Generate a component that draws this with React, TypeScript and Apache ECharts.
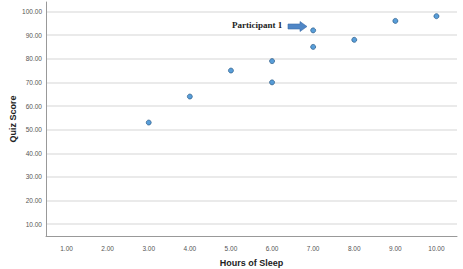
import React, { useEffect, useRef } from "react";
import * as echarts from "echarts";

const hoursOfSleep = [3, 4, 5, 6, 6, 7, 7, 8, 9, 10];
const quizScore = [53, 64, 75, 79, 70, 92, 85, 88, 96, 98];
const xTicks = [1, 2, 3, 4, 5, 6, 7, 8, 9, 10];
const yTicks = [10, 20, 30, 40, 50, 60, 70, 80, 90, 100];
const annotationText = "Participant 1";

export default function App() {
  const ref = useRef<HTMLDivElement>(null);
  useEffect(() => {
    document.body.style.margin = "0";
    const chart = echarts.init(ref.current!, null, { renderer: "svg" });
    chart.setOption({
      animation: false,
      backgroundColor: "#ffffff",
      grid: { left: 46, right: 6, top: 2, bottom: 33, outerBoundsMode: "none", containLabel: false },
      xAxis: {
        type: "value",
        min: 0.5,
        max: 10.5,
        name: "Hours of Sleep",
        nameLocation: "middle",
        nameGap: 22,
        nameMoveOverlap: false,
        nameTextStyle: { fontFamily: "Liberation Sans", fontWeight: "bold", fontSize: 9, color: "#222" },
        axisLine: { show: true, lineStyle: { color: "#999", width: 1 } },
        axisTick: { show: false, customValues: xTicks },
        axisLabel: {
          customValues: xTicks,
          formatter: (v: number) => v.toFixed(2),
          fontFamily: "Liberation Sans",
          fontSize: 6.5,
          color: "#555",
          margin: 9,
        },
        splitLine: { show: false },
      },
      yAxis: {
        type: "value",
        min: 5,
        max: 104,
        name: "Quiz Score",
        nameLocation: "middle",
        nameGap: 29,
        nameMoveOverlap: false,
        nameTextStyle: { fontFamily: "Liberation Sans", fontWeight: "bold", fontSize: 9, color: "#222" },
        axisLine: { show: true, lineStyle: { color: "#999", width: 1 } },
        axisTick: { show: false, customValues: yTicks },
        axisLabel: {
          customValues: yTicks,
          formatter: (v: number) => v.toFixed(2),
          fontFamily: "Liberation Sans",
          fontSize: 6.5,
          color: "#555",
          margin: 4,
        },
        splitLine: { show: true, lineStyle: { color: "#e3e3e3", width: 1.5 } },
      },
      series: [
        {
          type: "scatter",
          data: hoursOfSleep.map((h, i) => [h, quizScore[i]]),
          symbol: "circle",
          symbolSize: 5,
          itemStyle: { color: "#2f86d0", borderColor: "#1c4f7c", borderWidth: 0.8 },
        },
      ],
      graphic: [
        {
          type: "text",
          left: 232,
          top: 20,
          style: {
            text: annotationText,
            font: "bold 9px 'Liberation Serif'",
            fill: "#222",
          },
        },
        {
          type: "polygon",
          shape: {
            points: [
              [288, 24],
              [300, 24],
              [300, 21.5],
              [307, 26.5],
              [300, 31.5],
              [300, 29],
              [288, 29],
            ],
          },
          style: { fill: "#4f86c6", stroke: "#3a6ca8", lineWidth: 0.6 },
        },
      ],
    });
    return () => chart.dispose();
  }, []);
  return <div ref={ref} style={{ width: 463, height: 269 }} />;
}
